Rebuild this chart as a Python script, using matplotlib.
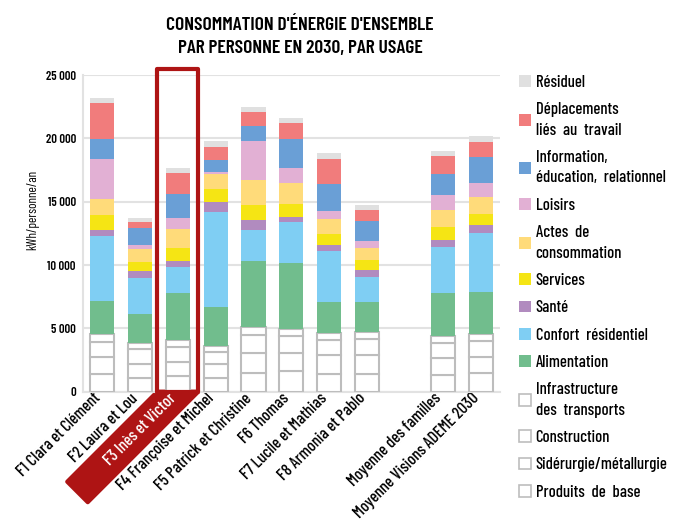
import numpy as np
import matplotlib
import matplotlib.pyplot as plt
from matplotlib.patches import Patch, Rectangle, Polygon
from matplotlib.transforms import Affine2D, ScaledTranslation

plt.rcParams['font.family'] = ['Barlow Condensed', 'Roboto Condensed', 'DejaVu Sans']
plt.rcParams['font.weight'] = 500

familles = ['F1 Clara et Clément', 'F2 Laura et Lou', 'F3 Inès et Victor',
            'F4 Françoise et Michel', 'F5 Patrick et Christine', 'F6 Thomas',
            'F7 Lucile et Mathias', 'F8 Armonia et Pablo',
            'Moyenne des familles', 'Moyenne Visions ADEME 2030']
pos = [0, 1, 2, 3, 4, 5, 6, 7, 9, 10]

# kWh/personne/an, du bas vers le haut
produits = [1374, 1082, 1240, 1058, 1453, 1634, 1374, 1397, 1318, 1453]
siderurgie = [1389, 1081, 1105, 1105, 1579, 1398, 1500, 1477, 1319, 1310]
construction = [1185, 1232, 1160, 947, 1468, 1366, 1208, 1263, 1232, 1240]
infra = [607, 474, 553, 498, 608, 576, 576, 576, 552, 529]
alimentation = [2630, 2289, 3758, 3055, 5211, 5187, 2424, 2345, 3371, 3339]
confort = [5131, 2842, 2053, 7524, 2423, 3237, 3997, 1997, 3632, 4658]
sante = [450, 505, 450, 790, 813, 395, 497, 553, 553, 631]
services = [1184, 759, 1026, 1026, 1185, 1050, 868, 790, 1026, 869]
actes = [1264, 979, 1500, 1184, 1950, 1634, 1161, 971, 1342, 1342]
loisirs = [3183, 339, 869, 158, 3079, 1160, 655, 505, 1184, 1106]
information = [1553, 1342, 1918, 948, 1208, 2313, 2132, 1579, 1658, 2053]
deplacements = [2868, 450, 1658, 1026, 1081, 1264, 1974, 868, 1398, 1160]
residuel = [346, 340, 371, 474, 419, 371, 450, 395, 418, 474]

series = [
    ('Produits  de  base', produits, 'white'),
    ('Sidérurgie/métallurgie', siderurgie, 'white'),
    ('Construction', construction, 'white'),
    ('Infrastructure\ndes  transports', infra, 'white'),
    ('Alimentation', alimentation, '#71bd8d'),
    ('Confort  résidentiel', confort, '#7fcef3'),
    ('Santé', sante, '#b18bbf'),
    ('Services', services, '#f5e514'),
    ('Actes  de\nconsommation', actes, '#ffdb7a'),
    ('Loisirs', loisirs, '#e2b0d4'),
    ('Information,\néducation,  relationnel', information, '#6a9fd6'),
    ('Déplacements\nliés  au  travail', deplacements, '#f17c7c'),
    ('Résiduel', residuel, '#e0e0e0'),
]

red = '#ae1414'
grey_edge = '#bdbdbd'
hl_idx = 2  # famille mise en avant

fig = plt.figure(figsize=(6.77, 5.28), dpi=100)
ax = fig.add_axes([82.7/677, 1-391.7/528, (500-82.7)/677, (391.7-75)/528])

bottom = np.zeros(len(pos))
handles = []
for label, vals, col in series:
    if col == 'white':
        ax.bar(pos, vals, 0.635, bottom=bottom, color='white', edgecolor=grey_edge, linewidth=1.5, zorder=3)
        handles.append(Patch(facecolor='white', edgecolor=grey_edge, linewidth=1.2, label=label))
    else:
        ax.bar(pos, vals, 0.635, bottom=bottom, color=col, linewidth=0, zorder=3)
        handles.append(Patch(facecolor=col, edgecolor='none', label=label))
    bottom += np.array(vals)

ax.set_xlim(-0.51, 10.51)
ax.set_ylim(0, 25000)
ax.set_yticks(range(0, 25001, 5000))
ax.set_yticklabels(['0', '5 000', '10 000', '15 000', '20 000', '25 000'], fontsize=9, fontweight=600)
ax.grid(axis='y', color='#e2e2e2', linewidth=1.5, zorder=0)
ax.set_axisbelow(True)
for s in ['top', 'right']:
    ax.spines[s].set_visible(False)
for s in ['left', 'bottom']:
    ax.spines[s].set_color('#e2e2e2')
    ax.spines[s].set_linewidth(1.5)
ax.tick_params(length=0)
ax.tick_params(axis='y', pad=5)
ax.tick_params(axis='x', pad=3)

ax.set_xticks(pos)
ax.set_xticklabels(familles, rotation=45, ha='right', va='center', rotation_mode='anchor', fontsize=12)
# décalage à gauche pour que les étiquettes suivent la diagonale du pied de barre
shift = ScaledTranslation(-3/72, 0, fig.dpi_scale_trans)
for lab in ax.get_xticklabels():
    lab.set_transform(lab.get_transform() + shift)
ax.get_xticklabels()[hl_idx].set_color('white')

ax.set_ylabel('kWh/personne/an', fontsize=9.5)
ax.yaxis.set_label_coords(-0.105, 0.574)

# cadre autour de F3 + bandeau rouge sous l'étiquette
ax.add_patch(Rectangle((pos[hl_idx] - 0.54, 0), 1.08, 25470, fill=False, edgecolor=red,
                       linewidth=3, joinstyle='round', clip_on=False, zorder=4))
band_tr = (Affine2D().scale(0.01) + fig.dpi_scale_trans
           + ScaledTranslation(pos[hl_idx], 0, ax.transData))
band = Polygon([(-20.5, 0), (20.5, 0), (-90, -110.5), (-110.5, -90)], closed=True,
               facecolor=red, edgecolor=red, linewidth=3, joinstyle='round',
               transform=band_tr, clip_on=False, zorder=0.3)
ax.add_patch(band)

fig.text(300/677, 1-37/528, "CONSOMMATION D'ÉNERGIE D'ENSEMBLE\nPAR PERSONNE EN 2030, PAR USAGE",
         ha='center', va='center', fontsize=14, fontweight=600, linespacing=1.45)

leg = fig.legend(handles=handles[::-1], loc='upper left', bbox_to_anchor=(519/677, 1-75/528),
                 frameon=False, fontsize=12, handlelength=0.7, handleheight=0.7,
                 handletextpad=0.3, labelspacing=0.74, borderpad=0, borderaxespad=0)
for t in leg.get_texts():
    t.set_linespacing(1.45)

fig.savefig('out.png', dpi=100)
